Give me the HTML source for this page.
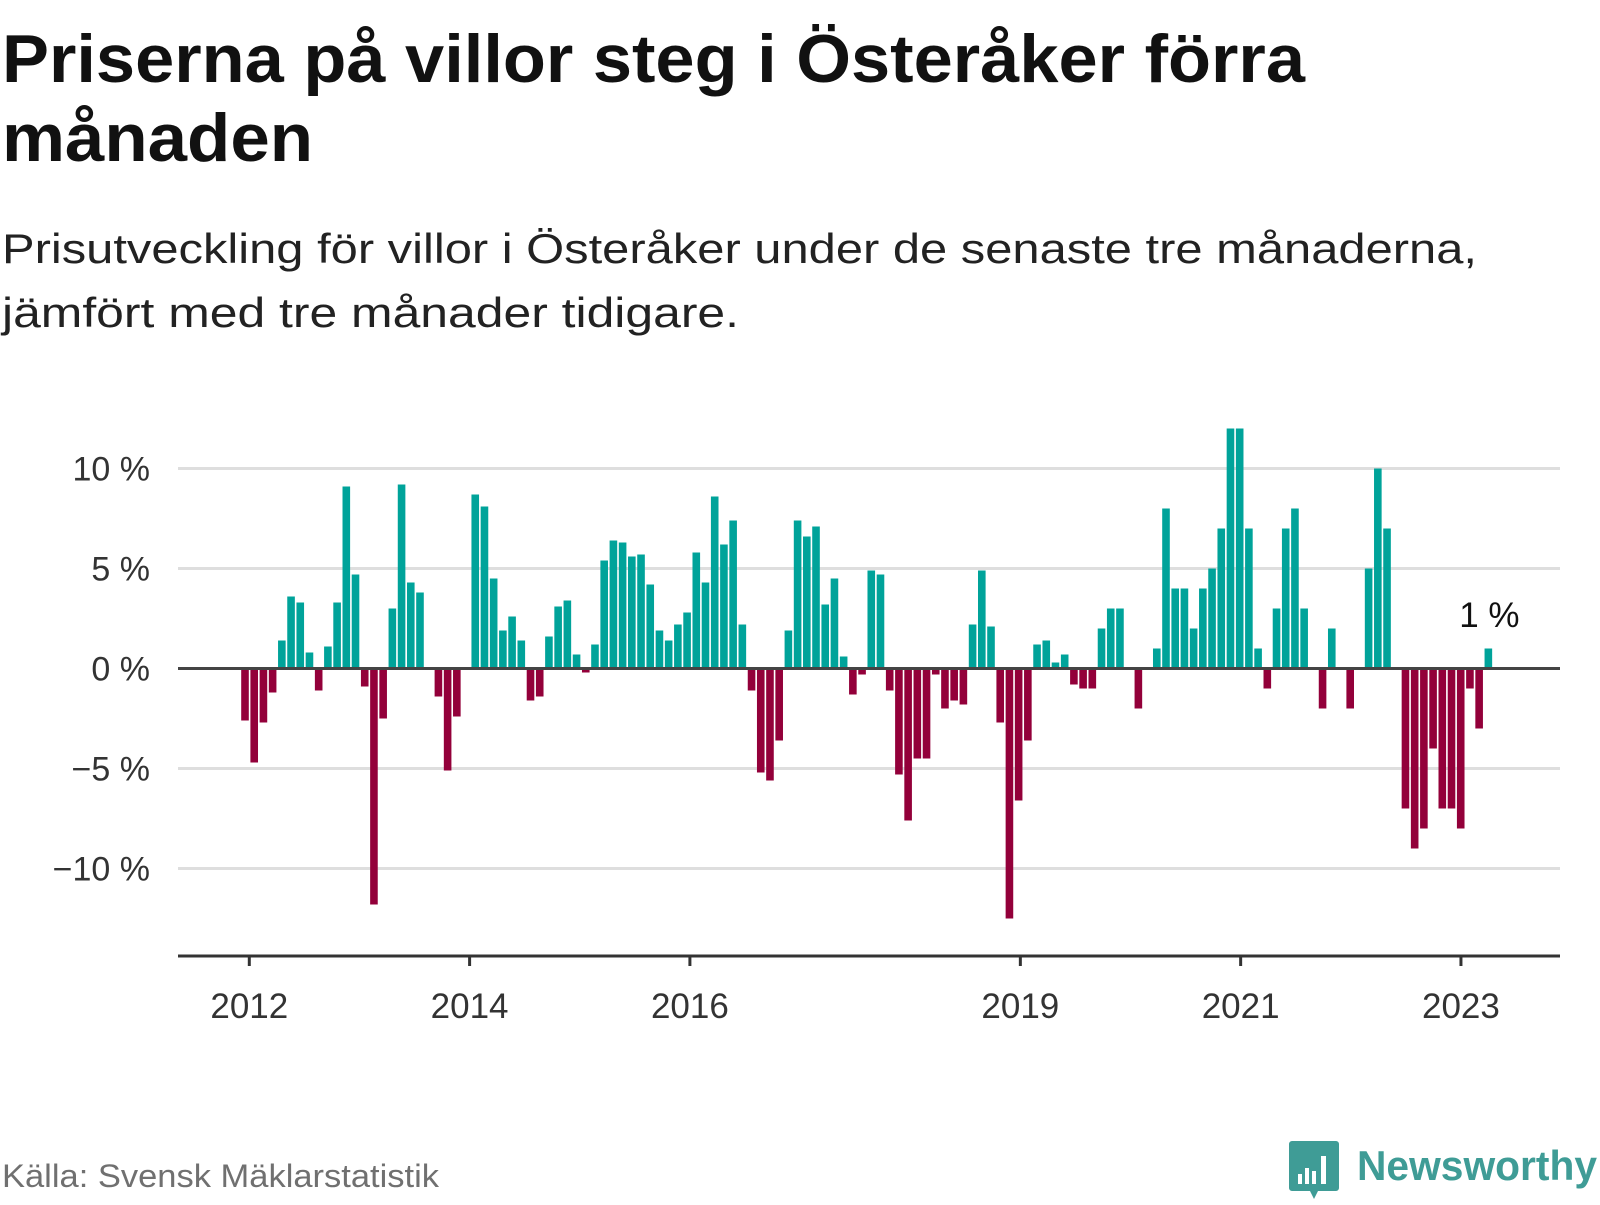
<!DOCTYPE html>
<html><head><meta charset="utf-8"><style>
body{margin:0;width:1600px;height:1200px;background:#fff;overflow:hidden;font-family:"Liberation Sans",sans-serif;}
</style></head><body>
<svg width="1600" height="1200" viewBox="0 0 1600 1200" xmlns="http://www.w3.org/2000/svg">
<text x="2" y="82" font-size="68" font-weight="bold" fill="#111" textLength="1303" lengthAdjust="spacingAndGlyphs">Priserna på villor steg i Österåker förra</text>
<text x="2" y="161" font-size="68" font-weight="bold" fill="#111" textLength="311" lengthAdjust="spacingAndGlyphs">månaden</text>
<text x="2" y="263" font-size="42" fill="#222" textLength="1475" lengthAdjust="spacingAndGlyphs">Prisutveckling för villor i Österåker under de senaste tre månaderna,</text>
<text x="2" y="327" font-size="42" fill="#222" textLength="737" lengthAdjust="spacingAndGlyphs">jämfört med tre månader tidigare.</text>
<g id="grid"></g><g id="bars"></g><g id="axes"></g>
<text x="2" y="1187" font-size="32" fill="#707070" textLength="437" lengthAdjust="spacingAndGlyphs">Källa: Svensk Mäklarstatistik</text>
<g>
<path d="M1292 1141 h44 a3 3 0 0 1 3 3 v44 a3 3 0 0 1 -3 3 h-18 l-4 8 l-4 -8 h-18 a3 3 0 0 1 -3 -3 v-44 a3 3 0 0 1 3 -3z" fill="#3f9c96"/>
<rect x="1298" y="1174" width="4" height="10" fill="#fff"/><rect x="1305" y="1168" width="4" height="16" fill="#fff"/><rect x="1312" y="1171" width="4" height="13" fill="#fff"/><rect x="1321" y="1156" width="5" height="28" fill="#fff"/>
<text x="1357" y="1180" font-size="42" font-weight="bold" fill="#3f9c96" textLength="240" lengthAdjust="spacingAndGlyphs">Newsworthy</text>
</g>
</svg>
<script>
const values=[-2.6,-4.7,-2.7,-1.2,1.4,3.6,3.3,0.8,-1.1,1.1,3.3,9.1,4.7,-0.9,-11.8,-2.5,3.0,9.2,4.3,3.8,0,-1.4,-5.1,-2.4,0,8.7,8.1,4.5,1.9,2.6,1.4,-1.6,-1.4,1.6,3.1,3.4,0.7,-0.2,1.2,5.4,6.4,6.3,5.6,5.7,4.2,1.9,1.4,2.2,2.8,5.8,4.3,8.6,6.2,7.4,2.2,-1.1,-5.2,-5.6,-3.6,1.9,7.4,6.6,7.1,3.2,4.5,0.6,-1.3,-0.3,4.9,4.7,-1.1,-5.3,-7.6,-4.5,-4.5,-0.3,-2.0,-1.6,-1.8,2.2,4.9,2.1,-2.7,-12.5,-6.6,-3.6,1.2,1.4,0.3,0.7,-0.8,-1.0,-1.0,2.0,3.0,3.0,0,-2.0,0,1.0,8.0,4.0,4.0,2.0,4.0,5.0,7.0,12.0,12.0,7.0,1.0,-1.0,3.0,7.0,8.0,3.0,0,-2.0,2.0,0,-2.0,0,5.0,10.0,7.0,0,-7.0,-9.0,-8.0,-4.0,-7.0,-7.0,-8.0,-1.0,-3.0,1.0];
const yTicks=[10,5,0,-5,-10];
const yTickLabels=["10 %","5 %","0 %","\u22125 %","\u221210 %"];
const xTickYears=[2012,2014,2016,2019,2021,2023];
const NS="http://www.w3.org/2000/svg";
const y=v=>668.5-v*20;
const xBar=i=>245+i*9.21;
const xYear=yr=>249.3+(yr-2012)*110.15;
function mk(tag,attrs,parent,txt){const e=document.createElementNS(NS,tag);for(const k in attrs)e.setAttribute(k,attrs[k]);if(txt!==undefined)e.textContent=txt;document.getElementById(parent).appendChild(e);return e;}
yTicks.forEach((t,i)=>{
  if(t!==0){const g=mk('line',{x1:178,x2:1560,y1:y(t),y2:y(t),stroke:'#dedede','stroke-width':3},'grid');
  
  }
  const l=mk('text',{x:150,y:y(t)+12,'font-size':34,fill:'#333','text-anchor':'end'},'grid',yTickLabels[i]);
  
  
});
values.forEach((v,i)=>{
  if(v===0)return;
  const top=v>0?y(v):y(0);
  const b=mk('rect',{x:xBar(i)-3.8,y:top,width:7.6,height:Math.abs(v)*20,fill:v>0?'#00a39a':'#93003a'},'bars');
  
  
});
const z=mk('line',{x1:178,x2:1560,y1:y(0),y2:y(0),stroke:'#444','stroke-width':3},'axes');


const ax=mk('line',{x1:178,x2:1560,y1:956,y2:956,stroke:'#333','stroke-width':3},'axes');


xTickYears.forEach(yr=>{
  const t=mk('line',{x1:xYear(yr),x2:xYear(yr),y1:956,y2:966,stroke:'#333','stroke-width':3},'axes');
  
  
  const l=mk('text',{x:xYear(yr),y:1018,'font-size':35,fill:'#333','text-anchor':'middle'},'axes',String(yr));
  
  
});
const last=values.length-1;
const lab=mk('text',{x:xBar(last)+1,y:627,'font-size':35,fill:'#111','text-anchor':'middle'},'axes',values[last]+" %");


</script>
</body></html>
